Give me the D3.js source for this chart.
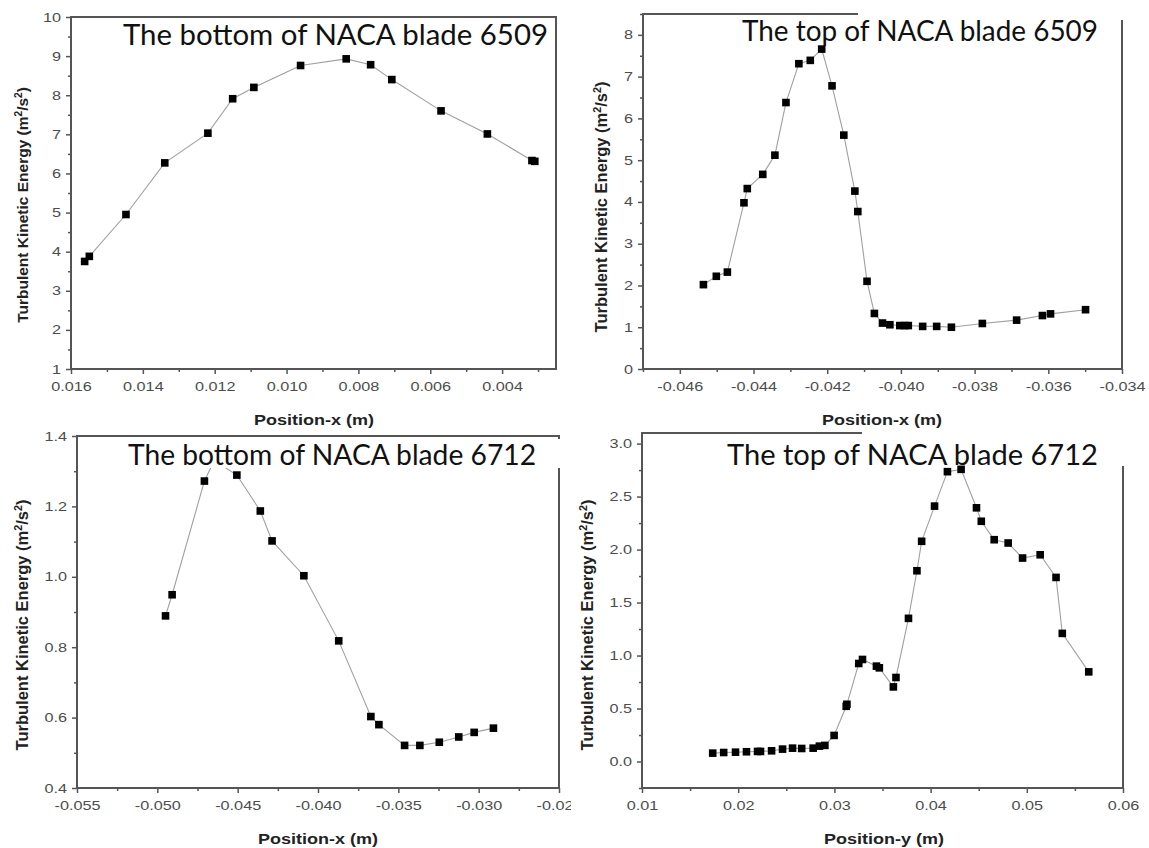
<!DOCTYPE html>
<html>
<head>
<meta charset="utf-8">
<script src="https://cdn.jsdelivr.net/npm/d3@7"></script>
<style>
  body { margin: 0; background: #fff; }
  svg { display: block; }
</style>
</head>
<body>
<div id="chart"></div>
<script>
// bottom of NACA 6509
const bot6509X = [0.01562, 0.01549, 0.01447, 0.01339, 0.01219, 0.01150, 0.01091, 0.00961, 0.00834, 0.00766, 0.00707, 0.00570, 0.00441, 0.00317, 0.00309];
const bot6509Y = [3.75, 3.88, 4.95, 6.27, 7.03, 7.91, 8.20, 8.76, 8.93, 8.78, 8.40, 7.60, 7.01, 6.33, 6.31];

// top of NACA 6509
const top6509X = [-0.04536, -0.04501, -0.04471, -0.04426, -0.04417, -0.04375, -0.04342, -0.04312, -0.04277, -0.04246,
  -0.04215, -0.04187, -0.04155, -0.04125, -0.04117, -0.04092, -0.04072, -0.04050, -0.04030, -0.04003,
  -0.03990, -0.03980, -0.03941, -0.03903, -0.03863, -0.03779, -0.03686, -0.03616, -0.03594, -0.03499];
const top6509Y = [2.02, 2.22, 2.32, 3.98, 4.32, 4.66, 5.12, 6.38, 7.31, 7.39,
  7.66, 6.78, 5.60, 4.26, 3.77, 2.10, 1.33, 1.10, 1.06, 1.04,
  1.04, 1.04, 1.02, 1.02, 1.00, 1.09, 1.17, 1.28, 1.32, 1.42];

// bottom of NACA 6712
const bot6712X = [-0.04949, -0.04908, -0.04707, -0.04646, -0.04505, -0.04359, -0.04286, -0.04088, -0.03871, -0.03671,
  -0.03621, -0.03461, -0.03366, -0.03245, -0.03124, -0.03028, -0.02908];
const bot6712Y = [0.889, 0.949, 1.272, 1.33, 1.289, 1.187, 1.102, 1.003, 0.818, 0.603,
  0.580, 0.521, 0.521, 0.530, 0.545, 0.558, 0.570];

// top of NACA 6712
const top6712X = [0.01735, 0.01849, 0.01972, 0.02086, 0.02201, 0.02232, 0.02347, 0.02461, 0.02565, 0.02660,
  0.02779, 0.02844, 0.02901, 0.02997, 0.03123, 0.03130, 0.03253, 0.03292, 0.03437, 0.03467,
  0.03613, 0.03640, 0.03770, 0.03858, 0.03907, 0.04041, 0.04175, 0.04317, 0.04477, 0.04527,
  0.04661, 0.04806, 0.04956, 0.05139, 0.05304, 0.05369, 0.05644];
const top6712Y = [0.079, 0.085, 0.088, 0.092, 0.095, 0.095, 0.101, 0.117, 0.126, 0.123,
  0.126, 0.145, 0.152, 0.246, 0.521, 0.540, 0.925, 0.963, 0.900, 0.884,
  0.704, 0.793, 1.351, 1.800, 2.078, 2.410, 2.735, 2.757, 2.394, 2.267,
  2.093, 2.062, 1.920, 1.951, 1.737, 1.209, 0.846];

// tick values
const p1XTicks = [0.016, 0.014, 0.012, 0.010, 0.008, 0.006, 0.004];
const p1YTicks = [1, 2, 3, 4, 5, 6, 7, 8, 9, 10];
const p2XTicks = [-0.046, -0.044, -0.042, -0.040, -0.038, -0.036, -0.034];
const p2YTicks = [0, 1, 2, 3, 4, 5, 6, 7, 8];
const p3XTicks = [-0.055, -0.050, -0.045, -0.040, -0.035, -0.030, -0.025];
const p3YTicks = [0.4, 0.6, 0.8, 1.0, 1.2, 1.4];
const p4XTicks = [0.01, 0.02, 0.03, 0.04, 0.05, 0.06];
const p4YTicks = [0.0, 0.5, 1.0, 1.5, 2.0, 2.5, 3.0];

const titles = ["The bottom of NACA blade 6509", "The top of NACA blade 6509",
  "The bottom of NACA blade 6712", "The top of NACA blade 6712"];
const xLabels = ["Position-x (m)", "Position-x (m)", "Position-x (m)", "Position-y (m)"];

const width = 1149, height = 848;
const stretch = 1.3; // the source figure was widened, so its text is too
const axisColor = "#555";

const svg = d3.select("#chart").append("svg")
  .attr("width", width)
  .attr("height", height);

function midTicks(t) {
  const out = [];
  for (let i = 0; i < t.length - 1; i++) out.push((t[i] + t[i + 1]) / 2);
  out.push(t[t.length - 1] + (t[t.length - 1] - t[t.length - 2]) / 2);
  out.unshift(t[0] - (t[1] - t[0]) / 2);
  return out;
}

function drawPanel(p) {
  const g = svg.append("g");
  const x = d3.scaleLinear().domain(p.xDomain).range([p.left, p.right]);
  const y = d3.scaleLinear().domain(p.yDomain).range([p.bottom, p.top]);

  const inX = v => v >= Math.min(...p.xDomain) - 1e-9 && v <= Math.max(...p.xDomain) + 1e-9;
  const inY = v => v >= Math.min(...p.yDomain) - 1e-9 && v <= Math.max(...p.yDomain) + 1e-9;

  // minor ticks
  g.append("g").attr("transform", `translate(0,${p.bottom})`)
    .call(d3.axisBottom(x).tickValues(midTicks(p.xTicks).filter(inX)).tickSize(3).tickFormat(""))
    .call(a => a.select(".domain").remove());
  g.append("g").attr("transform", `translate(${p.left},0)`)
    .call(d3.axisLeft(y).tickValues(midTicks(p.yTicks).filter(inY)).tickSize(3).tickFormat(""))
    .call(a => a.select(".domain").remove());

  // major ticks
  const xa = g.append("g").attr("transform", `translate(0,${p.bottom})`)
    .call(d3.axisBottom(x).tickValues(p.xTicks).tickSize(5).tickPadding(8).tickFormat(p.xFmt));
  const ya = g.append("g").attr("transform", `translate(${p.left},0)`)
    .call(d3.axisLeft(y).tickValues(p.yTicks).tickSize(5).tickPadding(4).tickFormat(p.yFmt));
  [xa, ya].forEach(a => {
    a.select(".domain").remove();
    a.selectAll("text").attr("font-family", "Liberation Sans, Arial, sans-serif")
      .attr("font-size", 12.5).attr("fill", "#4d4d4d")
      .attr("transform", `scale(${stretch},1)`);
  });
  ya.selectAll("text").attr("x", -10 / stretch);
  g.selectAll(".tick line").attr("stroke", axisColor).attr("stroke-width", 1.5);

  // frame, drawn side by side
  const frame = [
    [[p.left, p.top], [p.right, p.top]],
    [[p.right, p.top], [p.right, p.bottom]],
    [[p.left, p.bottom], [p.right, p.bottom]],
    [[p.left, p.top], [p.left, p.bottom]]
  ];
  g.selectAll("line.frame").data(frame).enter().append("line")
    .attr("class", "frame")
    .attr("x1", d => d[0][0]).attr("y1", d => d[0][1])
    .attr("x2", d => d[1][0]).attr("y2", d => d[1][1])
    .attr("stroke", axisColor).attr("stroke-width", 2)
    .attr("stroke-linecap", "square");

  // data
  const pts = p.xs.map((v, i) => [v, p.ys[i]]);
  g.append("path")
    .datum(pts)
    .attr("fill", "none")
    .attr("stroke", "#a0a0a0")
    .attr("stroke-width", 1.1)
    .attr("d", d3.line().x(d => x(d[0])).y(d => y(d[1])));
  g.selectAll("rect.pt")
    .data(pts).enter().append("rect")
    .attr("class", "pt")
    .attr("x", d => x(d[0]) - 3.8).attr("y", d => y(d[1]) - 3.8)
    .attr("width", 7.6).attr("height", 7.6)
    .attr("fill", "#000");

  // white patches left by the pasted title boxes
  p.masks.forEach(m => {
    g.append("rect").attr("x", m[0]).attr("y", m[1]).attr("width", m[2]).attr("height", m[3]).attr("fill", "#fff");
  });

  // pasted title
  g.append("text")
    .attr("x", p.titleX).attr("y", p.titleY)
    .attr("font-family", "Lato, 'Open Sans', sans-serif")
    .attr("font-size", 28)
    .attr("fill", "#111")
    .attr("textLength", p.titleW)
    .attr("lengthAdjust", "spacingAndGlyphs")
    .text(p.title);

  // axis labels
  g.append("text")
    .attr("x", p.xLabX).attr("y", p.xLabY)
    .attr("text-anchor", "middle")
    .attr("font-family", "Liberation Sans, Arial, sans-serif")
    .attr("font-weight", "bold").attr("font-size", 14).attr("fill", "#222")
    .attr("textLength", 120)
    .attr("lengthAdjust", "spacingAndGlyphs")
    .text(p.xLabel);

  const yl = g.append("text")
    .attr("transform", `translate(${p.yLabX},${p.yLabY}) rotate(-90)`)
    .attr("text-anchor", "middle")
    .attr("font-family", "Liberation Sans, Arial, sans-serif")
    .attr("font-weight", "bold").attr("font-size", p.yLabSize).attr("fill", "#222");
  yl.append("tspan").text("Turbulent Kinetic Energy (m");
  yl.append("tspan").attr("dy", -6).attr("font-size", p.yLabSize * 0.65).text("2");
  yl.append("tspan").attr("dy", 6).text("/s");
  yl.append("tspan").attr("dy", -6).attr("font-size", p.yLabSize * 0.65).text("2");
  yl.append("tspan").attr("dy", 6).text(")");
}

const f3 = d => d.toFixed(3);

drawPanel({
  xs: bot6509X, ys: bot6509Y, xTicks: p1XTicks, yTicks: p1YTicks,
  xDomain: [0.016, 0.0025], yDomain: [1, 10],
  left: 71, right: 556, top: 17, bottom: 369,
  xFmt: f3, yFmt: d => d.toFixed(0),
  title: titles[0], titleX: 123, titleY: 45, titleW: 425,
  masks: [],
  xLabel: xLabels[0], xLabX: 314, xLabY: 425,
  yLabX: 28, yLabY: 205, yLabSize: 15.5
});

drawPanel({
  xs: top6509X, ys: top6509Y, xTicks: p2XTicks, yTicks: p2YTicks,
  xDomain: [-0.047, -0.034], yDomain: [0, 8.5],
  left: 643, right: 1122, top: 14, bottom: 369,
  xFmt: f3, yFmt: d => d.toFixed(0),
  title: titles[1], titleX: 742, titleY: 41, titleW: 356,
  masks: [[858, 8, 272, 12]],
  xLabel: xLabels[1], xLabX: 882, xLabY: 425,
  yLabX: 607, yLabY: 207, yLabSize: 16.5
});

drawPanel({
  xs: bot6712X, ys: bot6712Y, xTicks: p3XTicks, yTicks: p3YTicks,
  xDomain: [-0.055, -0.025], yDomain: [0.4, 1.4],
  left: 77, right: 559, top: 436, bottom: 788,
  xFmt: f3, yFmt: d => d.toFixed(1),
  title: titles[2], titleX: 128, titleY: 465, titleW: 408,
  masks: [[124, 439, 440, 29]],
  xLabel: xLabels[2], xLabX: 318, xLabY: 844,
  yLabX: 28, yLabY: 625, yLabSize: 16.5
});

// the original picture is cut right after the third panel
svg.append("rect").attr("x", 571).attr("y", 425).attr("width", 24).attr("height", 423).attr("fill", "#fff");

drawPanel({
  xs: top6712X, ys: top6712Y, xTicks: p4XTicks, yTicks: p4YTicks,
  xDomain: [0.01, 0.06], yDomain: [-0.25, 3.1],
  left: 642, right: 1123, top: 433, bottom: 788,
  xFmt: d => d.toFixed(2), yFmt: d => d.toFixed(1),
  title: titles[3], titleX: 727, titleY: 465, titleW: 371,
  masks: [[862, 428, 268, 10], [1116, 428, 14, 38]],
  xLabel: xLabels[3], xLabX: 884, xLabY: 844,
  yLabX: 593, yLabY: 625, yLabSize: 16.5
});
</script>
</body>
</html>
